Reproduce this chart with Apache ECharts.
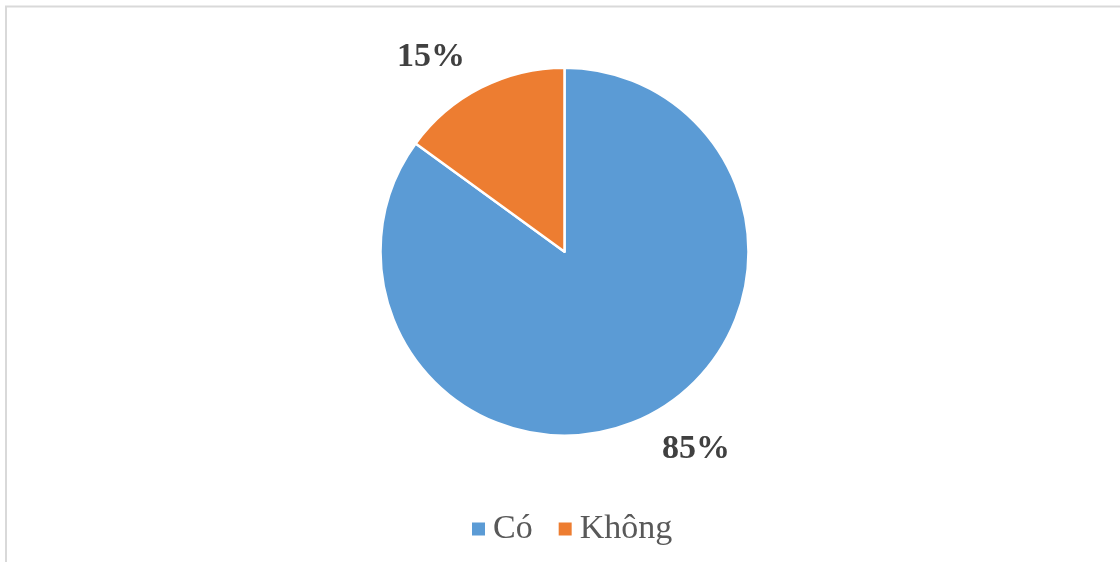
<!DOCTYPE html>
<html>
<head>
<meta charset="utf-8">
<style>
  html, body { margin: 0; padding: 0; background: #ffffff; }
  #chart { width: 1120px; height: 562px; }
</style>
<script src="https://cdn.jsdelivr.net/npm/echarts@6/dist/echarts.min.js"></script>
</head>
<body>
<div id="chart"></div>
<script>
// Survey answers and their shares (%)
const categories = ['Có', 'Không'];
const values = [85, 15];
const colors = ['#5B9BD5', '#ED7D31'];

// Where each percentage label sits
const labelSpots = [[696, 449], [431, 57]];

const chart = echarts.init(document.getElementById('chart'), null, { renderer: 'canvas' });

chart.setOption({
  backgroundColor: '#ffffff',
  animation: false,
  graphic: [{
    type: 'rect',
    shape: { x: 6, y: 6.5, width: 1200, height: 700 },
    style: { fill: 'none', stroke: '#d9d9d9', lineWidth: 2 },
    silent: true,
    z: -1
  }],
  legend: {
    data: categories,
    left: 467,
    top: 507,
    icon: 'rect',
    itemWidth: 13,
    itemHeight: 13,
    itemGap: 26,
    itemStyle: { borderWidth: 0 },
    textStyle: {
      fontFamily: '"Liberation Serif", "Times New Roman", serif',
      fontSize: 34,
      lineHeight: 34,
      color: '#595959',
      padding: [0, 0, 0, 3]
    }
  },
  series: [{
    type: 'pie',
    center: [564.5, 251.7],
    radius: [0, 184],
    startAngle: 90,
    clockwise: true,
    itemStyle: { borderColor: '#ffffff', borderWidth: 2.5 },
    label: {
      show: true,
      position: 'outside',
      formatter: '{d}%',
      fontFamily: '"Liberation Serif", "Times New Roman", serif',
      fontWeight: 'bold',
      fontSize: 34,
      color: '#404040'
    },
    labelLine: { show: false },
    labelLayout: function (params) {
      const p = labelSpots[params.dataIndex];
      return { x: p[0], y: p[1], align: 'center', verticalAlign: 'middle' };
    },
    emphasis: { disabled: true },
    data: categories.map((name, i) => ({
      name: name,
      value: values[i],
      itemStyle: { color: colors[i] }
    }))
  }]
});
</script>
</body>
</html>
